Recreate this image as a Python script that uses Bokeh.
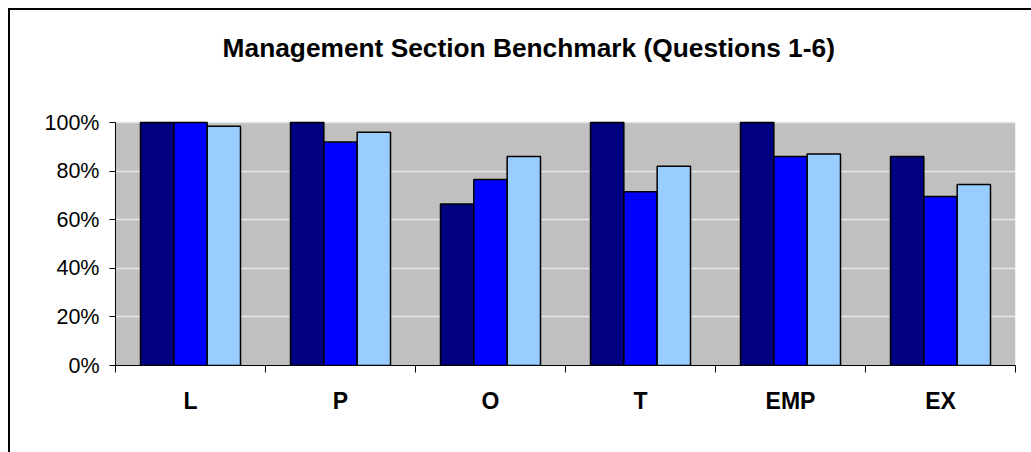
from bokeh.plotting import figure
from bokeh.models import Range1d, FixedTicker, Label
from bokeh.layouts import column
from bokeh.embed import file_html
from bokeh.resources import INLINE

categories = ["L", "P", "O", "T", "EMP", "EX"]
series_1 = [1.00, 1.00, 0.665, 1.00, 1.00, 0.86]
series_2 = [1.00, 0.92, 0.765, 0.715, 0.86, 0.695]
series_3 = [0.985, 0.96, 0.86, 0.82, 0.87, 0.745]
series_colors = ["#000080", "#0000FF", "#99CCFF"]
y_ticks = [0, 0.2, 0.4, 0.6, 0.8, 1.0]
y_tick_labels = ["0%", "20%", "40%", "60%", "80%", "100%"]
title_text = "Management Section Benchmark (Questions 1-6)"

FONT = "Liberation Sans"

# frame spans from the top of the figure down to the 0% line;
# the grey plot area (0..1) is drawn as a quad.
Y_TOP = 355.0 / 243.0

p = figure(width=1021, height=442,
           x_range=Range1d(0, len(categories)), y_range=Range1d(0, Y_TOP),
           output_backend="svg", toolbar_location=None,
           min_border_left=105, min_border_right=16,
           min_border_top=0, min_border_bottom=87)

p.background_fill_color = "white"
p.border_fill_color = "white"
p.outline_line_color = None

# grey plot area
p.quad(left=0, right=len(categories), bottom=0, top=1,
       fill_color="#C0C0C0", line_color=None, level="image")

centers = [i + 0.5 for i in range(len(categories))]
bw = 1.0 / 3 * 2.0 / 3
for k, (vals, col) in enumerate(zip([series_1, series_2, series_3], series_colors)):
    xs = [c + (k - 1) * bw for c in centers]
    p.vbar(x=xs, top=vals, bottom=0, width=bw, fill_color=col,
           line_color="black", line_width=1.5)

# grid
p.xgrid.grid_line_color = None
p.ygrid.grid_line_color = "#E6E6E6"
p.ygrid.grid_line_width = 1.5
p.ygrid.ticker = FixedTicker(ticks=y_ticks[1:])

# y axis
ya = p.yaxis[0]
ya.ticker = FixedTicker(ticks=y_ticks)
ya.bounds = (0, 1)
ya.major_label_overrides = {t: l for t, l in zip(y_ticks, y_tick_labels)}
ya.major_tick_in = 0
ya.major_tick_out = 6
ya.minor_tick_line_color = None
ya.axis_line_color = "black"
ya.major_tick_line_color = "black"
ya.major_label_standoff = 10
ya.major_label_text_font = FONT
ya.major_label_text_font_size = "21.5px"
ya.major_label_text_color = "black"

# x axis
xa = p.xaxis[0]
xa.ticker = FixedTicker(ticks=centers, minor_ticks=list(range(len(categories) + 1)))
xa.major_label_overrides = {c: n for c, n in zip(centers, categories)}
xa.major_tick_line_color = None
xa.major_tick_in = 0
xa.major_tick_out = 0
xa.minor_tick_in = 0
xa.minor_tick_out = 7
xa.minor_tick_line_color = "black"
xa.axis_line_color = "black"
xa.major_label_standoff = 15
xa.major_label_text_font = FONT
xa.major_label_text_font_style = "bold"
xa.major_label_text_font_size = "23px"
xa.major_label_text_color = "black"

title = Label(x=2.755, y=(365 - 47) / 243.0, x_units="data", y_units="data",
              text=title_text, text_align="center", text_baseline="middle",
              text_font=FONT, text_font_style="bold", text_font_size="26.3px",
              text_color="black")
p.add_layout(title)

layout = column(p, styles={"margin-left": "8px", "margin-top": "8px",
                           "border-left": "2px solid black",
                           "border-top": "2px solid black"})

open("out.html", "w").write(file_html(layout, INLINE))
